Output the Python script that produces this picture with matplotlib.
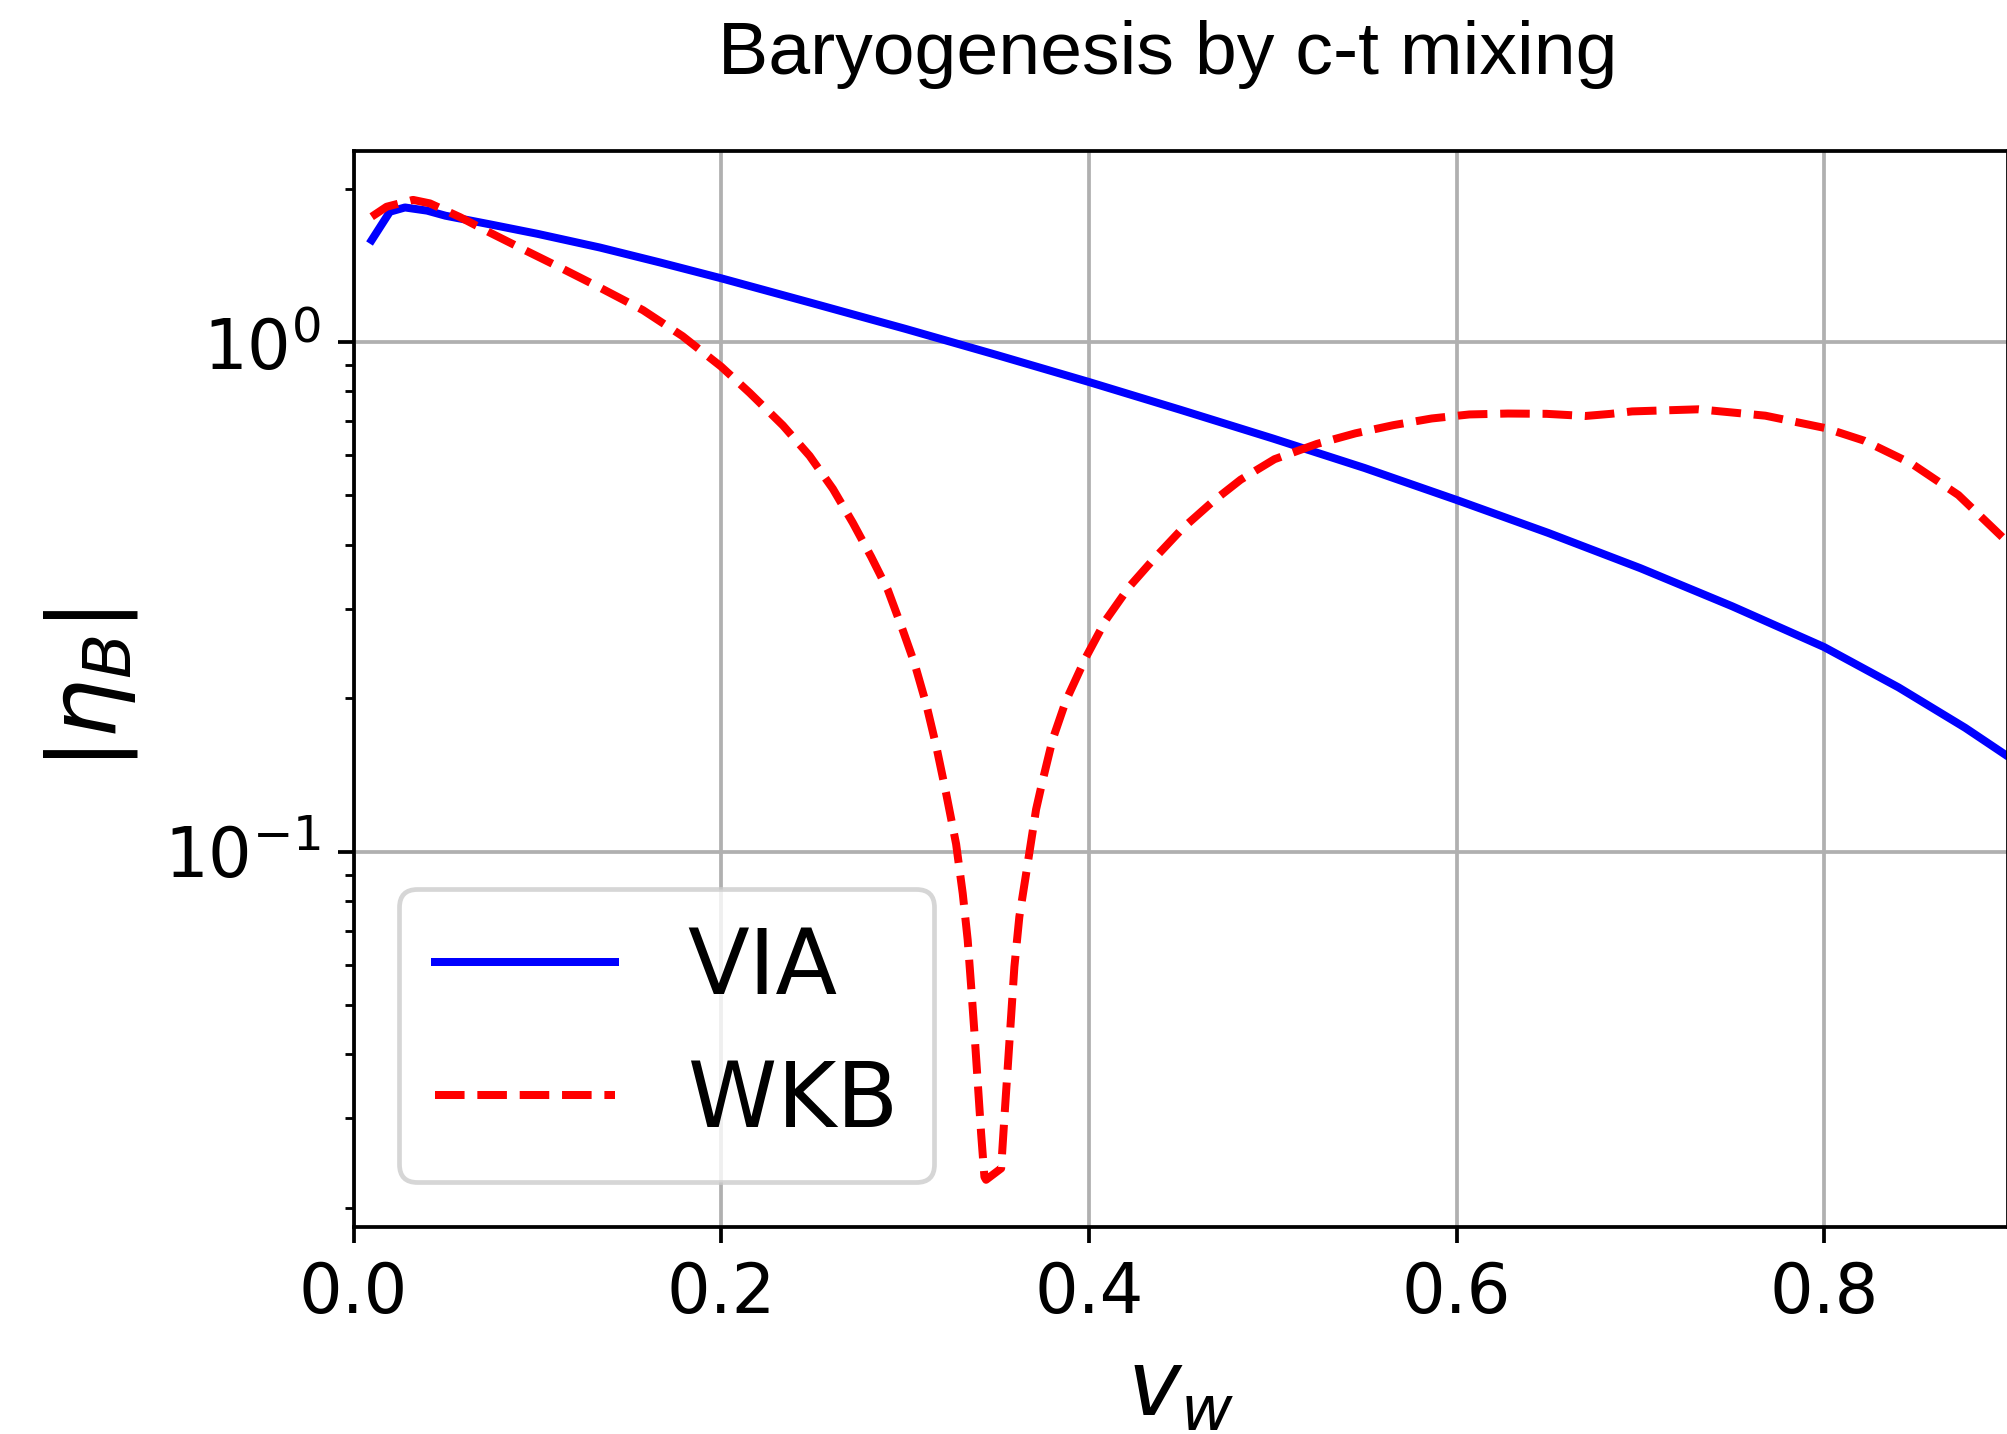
import numpy as np
import matplotlib
matplotlib.use("Agg")
import matplotlib.pyplot as plt

# values
vw_via = [0.0099, 0.0198, 0.028, 0.04, 0.05, 0.075, 0.1, 0.134, 0.167, 0.2,
          0.25, 0.3, 0.35, 0.4, 0.45, 0.5, 0.55, 0.6, 0.65, 0.7, 0.75, 0.8,
          0.8405, 0.8767, 0.8985]
eta_via = [1.585, 1.802, 1.837, 1.811, 1.770, 1.700, 1.631, 1.533, 1.432,
           1.334, 1.191, 1.062, 0.943, 0.835, 0.736, 0.647, 0.566, 0.490,
           0.422, 0.360, 0.303, 0.252, 0.210, 0.175, 0.155]

vw_wkb = [0.0099, 0.018, 0.0324, 0.0416, 0.058, 0.074, 0.094, 0.114, 0.134,
          0.1575, 0.179, 0.2, 0.2155, 0.2336, 0.2481, 0.2608, 0.2716, 0.2816,
          0.2907, 0.2988, 0.3052, 0.3115, 0.317, 0.3224, 0.3278, 0.3314,
          0.3341, 0.336, 0.3378, 0.3396, 0.3414, 0.3432, 0.3441, 0.3523,
          0.3541, 0.3559, 0.3577, 0.3595, 0.3622, 0.3659, 0.3713, 0.3749,
          0.3803, 0.3876, 0.3985, 0.4093, 0.422, 0.4347, 0.451, 0.4673,
          0.4826, 0.501, 0.524, 0.545, 0.5657, 0.5865, 0.607, 0.628, 0.649,
          0.670, 0.684, 0.6955, 0.7318, 0.768, 0.8006, 0.822, 0.8477, 0.873,
          0.8985]
eta_wkb = [1.762, 1.843, 1.901, 1.871, 1.758, 1.641, 1.510, 1.391, 1.279,
           1.155, 1.027, 0.895, 0.795, 0.686, 0.598, 0.515, 0.442, 0.379,
           0.326, 0.272, 0.234, 0.195, 0.161, 0.130, 0.1035, 0.0828,
           0.0671, 0.0543, 0.0440, 0.0351, 0.0280, 0.0230, 0.0227, 0.0239,
           0.0302, 0.0378, 0.0474, 0.0594, 0.0745, 0.0906, 0.121, 0.138,
           0.166, 0.198, 0.241, 0.285, 0.331, 0.373, 0.431, 0.486,
           0.537, 0.589, 0.631, 0.662, 0.687, 0.708, 0.721, 0.724, 0.723,
           0.716, 0.723, 0.731, 0.738, 0.717, 0.678, 0.640, 0.577, 0.501,
           0.409]

# reference was rendered at ~4.7 px per point; at dpi 100 scale by this
s = 4.7 / (100 / 72.0)

plt.rcParams['axes.linewidth'] = 0.8 * s
plt.rcParams['xtick.major.width'] = 0.8 * s
plt.rcParams['ytick.major.width'] = 0.8 * s
plt.rcParams['xtick.minor.width'] = 0.6 * s
plt.rcParams['ytick.minor.width'] = 0.6 * s
plt.rcParams['xtick.major.size'] = 3.5 * s
plt.rcParams['ytick.major.size'] = 3.5 * s
plt.rcParams['xtick.minor.size'] = 2.0 * s
plt.rcParams['ytick.minor.size'] = 2.0 * s
plt.rcParams['xtick.major.pad'] = 3.5 * s
plt.rcParams['ytick.major.pad'] = 3.5 * s
plt.rcParams['axes.labelpad'] = 4.0 * s
plt.rcParams['grid.linewidth'] = 0.8 * s
plt.rcParams['legend.framealpha'] = 0.8

fig = plt.figure(figsize=(20.08, 14.34), dpi=100)
ax = fig.add_axes([353.5 / 2008, 1 - 1227 / 1434, (2008 - 353.5) / 2008, (1227 - 151) / 1434])

ax.plot(vw_via, eta_via, color='blue', lw=1.7 * s, label='VIA')
ax.plot(vw_wkb, eta_wkb, color='red', lw=1.7 * s, ls='--', label='WKB')

ax.set_yscale('log')
ax.set_xlim(0, 0.9)
ax.set_ylim(0.01834, 2.371)
ax.grid(True)
ax.tick_params(labelsize=49.6)
ax.set_xlabel(r'$v_w$', fontsize=65)
ax.set_ylabel(r'$|\eta_B|$', fontsize=68, labelpad=5.0 * s)
leg = ax.legend(loc='lower left', fontsize=65)
leg.get_frame().set_linewidth(1.0 * s)

fig.text(1168 / 2008, 1 - 74 / 1434, 'Baryogenesis by c-t mixing',
         family='Liberation Sans', fontsize=54.2, ha='center', va='baseline')

fig.savefig('out.png', dpi=100)
